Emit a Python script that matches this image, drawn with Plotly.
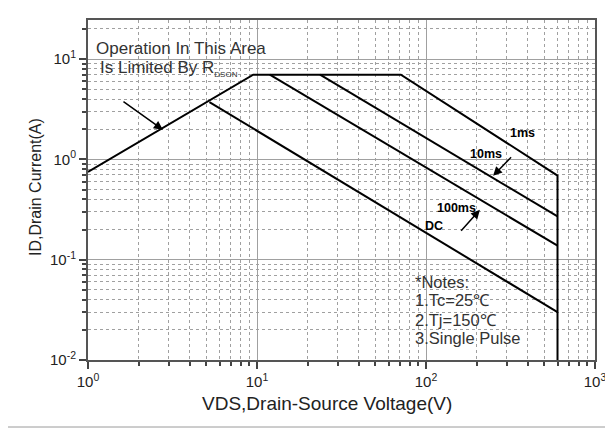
import plotly.graph_objects as go

# ---- data ----
vds_1ms = [1.0, 9.5, 71.0, 600.0, 600.0]
id_1ms = [0.75, 7.0, 7.0, 0.69, 0.01]
vds_10ms = [23.6, 600.0]
id_10ms = [7.0, 0.27]
vds_100ms = [11.9, 600.0]
id_100ms = [7.0, 0.138]
vds_dc = [5.23, 600.0]
id_dc = [3.73, 0.030]

x_tickvals = [1, 10, 100, 1000]
x_ticktext = ["10<sup>0</sup>", "10<sup>1</sup>", "10<sup>2</sup>", "10<sup>3</sup>"]
y_tickvals = [0.01, 0.1, 1, 10]
y_ticktext = ["10<sup>-2</sup>", "10<sup>-1</sup>", "10<sup>0</sup>", "10<sup>1</sup>"]

x_minor = [m * 10 ** e for e in range(0, 3) for m in range(2, 10)]
y_minor = [m * 10 ** e for e in range(-2, 2) for m in range(2, 10)]

FONT = "Liberation Sans, Arial, sans-serif"
TXT = "#222222"

fig = go.Figure()
line_style = dict(color="black", width=2)
for xs, ys in [(vds_1ms, id_1ms), (vds_10ms, id_10ms), (vds_100ms, id_100ms), (vds_dc, id_dc)]:
    fig.add_trace(go.Scatter(x=xs, y=ys, mode="lines", line=line_style,
                             showlegend=False, hoverinfo="skip"))

axis_common = dict(
    type="log", automargin=False,
    showline=True, linecolor="#555555", linewidth=2, mirror=True,
    ticks="outside", ticklen=7, tickwidth=1.5, tickcolor="#444444",
    showgrid=True, gridcolor="#a0a0a0", gridwidth=1,
    zeroline=False,
    tickfont=dict(family=FONT, size=15, color=TXT),
)

fig.update_xaxes(
    **axis_common,
    range=[0, 3],
    tickvals=x_tickvals, ticktext=x_ticktext,
    minor=dict(tickvals=x_minor, ticks="outside", ticklen=4, tickcolor="#444444",
               showgrid=True, gridcolor="#a0a0a0", griddash="dot", gridwidth=1),
)
fig.update_yaxes(
    **axis_common,
    range=[-2, 1.39],
    tickvals=y_tickvals, ticktext=y_ticktext,
    minor=dict(tickvals=y_minor, ticks="outside", ticklen=4, tickcolor="#444444",
               showgrid=True, gridcolor="#a0a0a0", griddash="dot", gridwidth=1),
)

annotations = []

def px_x(px):
    return (px - 88) / 507

def px_y(py):
    return (360 - py) / 340

# axis titles
annotations.append(dict(x=px_x(327), y=px_y(403), xref="paper", yref="paper",
                        text="VDS,Drain-Source Voltage(V)", showarrow=False,
                        font=dict(family=FONT, size=19, color=TXT),
                        xanchor="center", yanchor="middle"))
annotations.append(dict(x=px_x(35), y=px_y(187), xref="paper", yref="paper",
                        text="ID,Drain Current(A)", showarrow=False, textangle=-90,
                        font=dict(family=FONT, size=16, color=TXT),
                        xanchor="center", yanchor="middle"))

# RDS(on) text
annotations.append(dict(x=px_x(94), y=px_y(48), xref="paper", yref="paper",
                        text="Operation In This Area", showarrow=False,
                        font=dict(family=FONT, size=17, color="#333333"),
                        xanchor="left", yanchor="middle"))
annotations.append(dict(x=px_x(98), y=px_y(68), xref="paper", yref="paper",
                        text="Is Limited By R<sub><span style='font-size:8px'>DSON</span></sub>",
                        showarrow=False,
                        font=dict(family=FONT, size=17, color="#333333"),
                        xanchor="left", yanchor="middle"))

# notes
for txt, py in [("*Notes:", 282), ("1.Tc=25℃", 300), ("2.Tj=150℃", 320), ("3.Single Pulse", 338)]:
    annotations.append(dict(x=px_x(413), y=px_y(py), xref="paper", yref="paper",
                            text=txt, showarrow=False,
                            font=dict(family=FONT, size=16.5, color="#333333"),
                            xanchor="left", yanchor="middle"))

# curve labels (log-space data coords)
for txt, lx, ly in [("1ms", 2.571, 0.262), ("10ms", 2.353, 0.056),
                    ("100ms", 2.178, -0.486), ("DC", 2.047, -0.660)]:
    annotations.append(dict(x=lx, y=ly, xref="x", yref="y", text="<b>%s</b>" % txt,
                            showarrow=False, font=dict(family=FONT, size=12.5, color="black"),
                            xanchor="center", yanchor="middle"))

# arrows
for tip, tail in [((0.443, 0.295), (0.201, 0.588)),
                  ((2.397, -0.164), (2.512, 0.036)),
                  ((2.319, -0.503), (2.200, -0.726))]:
    annotations.append(dict(x=tip[0], y=tip[1], xref="x", yref="y",
                            ax=tail[0], ay=tail[1], axref="x", ayref="y",
                            text="", showarrow=True, arrowhead=2, arrowsize=1.2,
                            arrowwidth=1.5, arrowcolor="black"))

# the page body adds an 8px offset, so the figure is drawn 8px smaller
fig.update_layout(
    width=605, height=421,
    margin=dict(l=80, r=18, t=12, b=69),
    paper_bgcolor="white", plot_bgcolor="white",
    annotations=annotations,
    shapes=[dict(type="rect", xref="paper", yref="paper",
                 x0=px_x(5), x1=px_x(610), y0=px_y(427), y1=px_y(2),
                 line=dict(color="#9a9a9a", width=1), layer="above")],
    font=dict(family=FONT),
)

fig.write_html("out.html")
